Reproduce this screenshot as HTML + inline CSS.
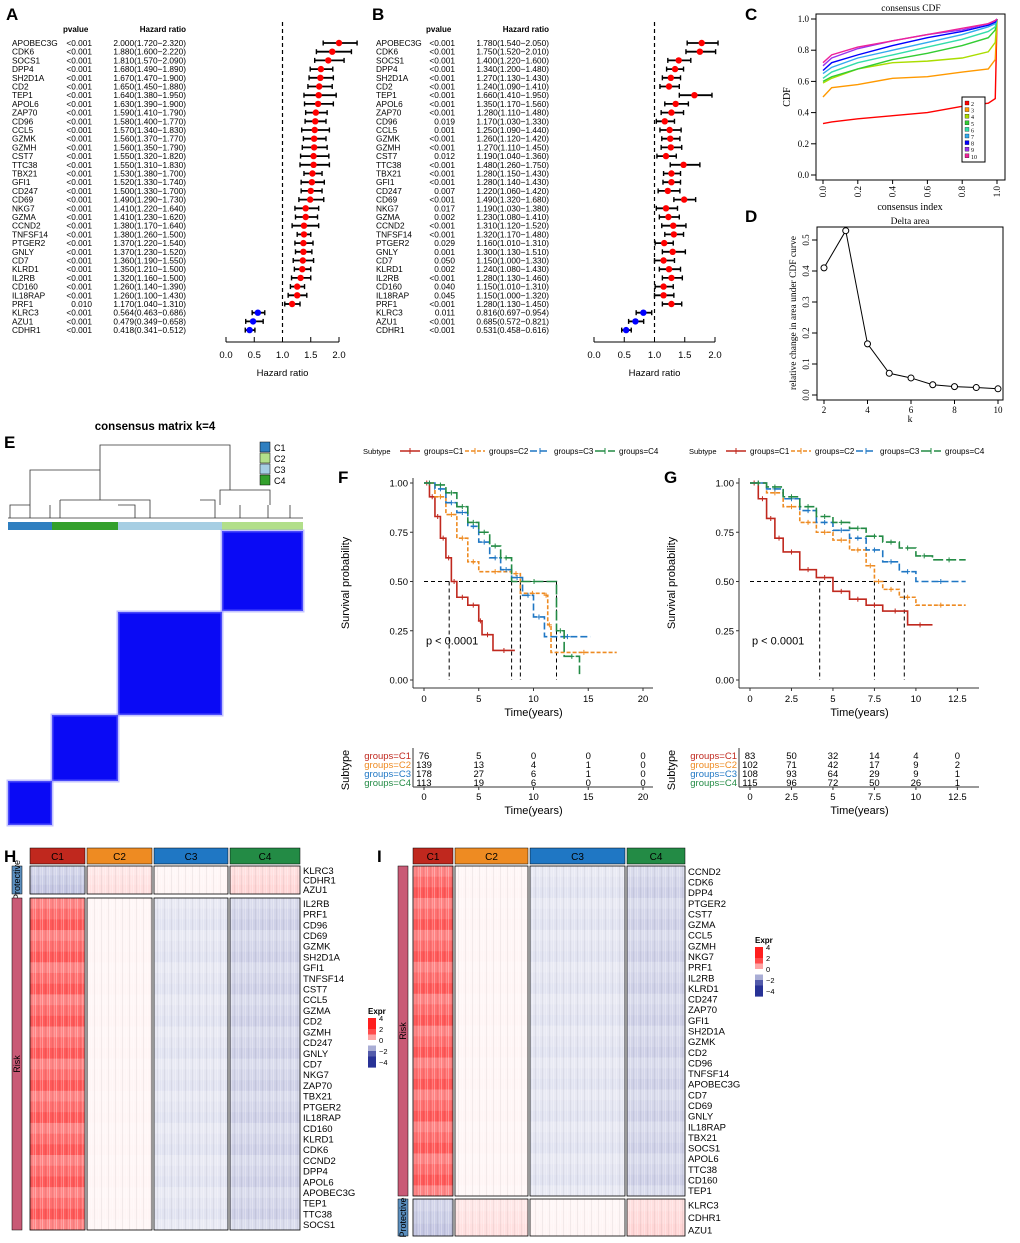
<!DOCTYPE html>
<html><head><meta charset="utf-8">
<style>
html,body{margin:0;padding:0;background:#fff;}
svg{display:block;font-family:"Liberation Sans",Arial,sans-serif;}
.serif{font-family:"Liberation Serif",serif;}
</style></head>
<body>
<svg id="fig" width="1020" height="1243" viewBox="0 0 1020 1243" xmlns="http://www.w3.org/2000/svg">
<defs>
<pattern id="stripes" width="7" height="4" patternUnits="userSpaceOnUse">
<rect x="0" y="0" width="1" height="4" fill="#fff" opacity="0.3"/>
<rect x="3" y="0" width="1" height="4" fill="#000" opacity="0.05"/>
<rect x="5" y="0" width="1" height="4" fill="#fff" opacity="0.2"/>
</pattern>
</defs>
</svg>
<script>
// ---------- DATA ----------
const genesA=["APOBEC3G","CDK6","SOCS1","DPP4","SH2D1A","CD2","TEP1","APOL6","ZAP70","CD96","CCL5","GZMK","GZMH","CST7","TTC38","TBX21","GFI1","CD247","CD69","NKG7","GZMA","CCND2","TNFSF14","PTGER2","GNLY","CD7","KLRD1","IL2RB","CD160","IL18RAP","PRF1","KLRC3","AZU1","CDHR1"];
const pA=["<0.001","<0.001","<0.001","<0.001","<0.001","<0.001","<0.001","<0.001","<0.001","<0.001","<0.001","<0.001","<0.001","<0.001","<0.001","<0.001","<0.001","<0.001","<0.001","<0.001","<0.001","<0.001","<0.001","<0.001","<0.001","<0.001","<0.001","<0.001","<0.001","<0.001","0.010","<0.001","<0.001","<0.001"];
const hrA=[2.000,1.880,1.810,1.680,1.670,1.650,1.640,1.630,1.590,1.580,1.570,1.560,1.560,1.550,1.550,1.530,1.520,1.500,1.490,1.410,1.410,1.380,1.380,1.370,1.370,1.360,1.350,1.320,1.260,1.260,1.170,0.564,0.479,0.418];
const loA=[1.720,1.600,1.570,1.490,1.470,1.450,1.380,1.390,1.410,1.400,1.340,1.370,1.350,1.320,1.310,1.380,1.330,1.330,1.290,1.220,1.230,1.170,1.260,1.220,1.230,1.190,1.210,1.160,1.140,1.100,1.040,0.463,0.349,0.341];
const hiA=[2.320,2.220,2.090,1.890,1.900,1.880,1.950,1.900,1.790,1.770,1.830,1.770,1.790,1.820,1.830,1.700,1.740,1.700,1.730,1.640,1.620,1.640,1.500,1.540,1.520,1.550,1.500,1.500,1.390,1.430,1.310,0.686,0.658,0.512];
const genesB=["APOBEC3G","CDK6","SOCS1","DPP4","SH2D1A","CD2","TEP1","APOL6","ZAP70","CD96","CCL5","GZMK","GZMH","CST7","TTC38","TBX21","GFI1","CD247","CD69","NKG7","GZMA","CCND2","TNFSF14","PTGER2","GNLY","CD7","KLRD1","IL2RB","CD160","IL18RAP","PRF1","KLRC3","AZU1","CDHR1"];
const pB=["<0.001","<0.001","<0.001","<0.001","<0.001","<0.001","<0.001","<0.001","<0.001","0.019","0.001","<0.001","<0.001","0.012","<0.001","<0.001","<0.001","0.007","<0.001","0.017","0.002","<0.001","<0.001","0.029","0.001","0.050","0.002","<0.001","0.040","0.045","<0.001","0.011","<0.001","<0.001"];
const hrB=[1.780,1.750,1.400,1.340,1.270,1.240,1.660,1.350,1.280,1.170,1.250,1.260,1.270,1.190,1.480,1.280,1.280,1.220,1.490,1.190,1.230,1.310,1.320,1.160,1.300,1.150,1.240,1.280,1.150,1.150,1.280,0.816,0.685,0.531];
const loB=[1.540,1.520,1.220,1.200,1.130,1.090,1.410,1.170,1.110,1.030,1.090,1.120,1.110,1.040,1.260,1.150,1.140,1.060,1.320,1.030,1.080,1.120,1.170,1.010,1.130,1.000,1.080,1.130,1.010,1.000,1.130,0.697,0.572,0.458];
const hiB=[2.050,2.010,1.600,1.480,1.430,1.410,1.950,1.560,1.480,1.330,1.440,1.420,1.450,1.360,1.750,1.430,1.430,1.420,1.680,1.380,1.410,1.520,1.480,1.310,1.510,1.330,1.430,1.460,1.310,1.320,1.450,0.954,0.821,0.616];
const hrTicks=[0,0.5,1,1.5,2];

const cdfX=[0,0.05,0.2,0.4,0.6,0.8,0.95,0.99,1.0];
const cdfK2=[0.33,0.34,0.36,0.38,0.40,0.44,0.46,0.49,1.0];
const cdfK3=[0.50,0.56,0.58,0.62,0.63,0.66,0.68,0.74,1.0];
const cdfK4=[0.59,0.62,0.68,0.72,0.73,0.75,0.79,0.85,1.0];
const cdfK5=[0.60,0.63,0.68,0.74,0.78,0.83,0.88,0.93,1.0];
const cdfK6=[0.62,0.66,0.72,0.77,0.82,0.87,0.92,0.95,1.0];
const cdfK7=[0.65,0.69,0.75,0.80,0.85,0.90,0.95,0.97,1.0];
const cdfK8=[0.67,0.72,0.77,0.83,0.88,0.92,0.96,0.98,1.0];
const cdfK9=[0.70,0.75,0.81,0.86,0.90,0.93,0.97,0.99,1.0];
const cdfK10=[0.72,0.77,0.82,0.86,0.90,0.94,0.97,0.99,1.0];
const deltaK=[2,3,4,5,6,7,8,9,10];
const deltaV=[0.41,0.53,0.165,0.07,0.055,0.033,0.027,0.024,0.02];

const kmFc1T=[0,0.5,1,1.5,2,2.5,3,4,5,5.3,6.3,8.3];
const kmFc1S=[1,0.93,0.83,0.72,0.62,0.5,0.42,0.38,0.3,0.23,0.15,0.15];
const kmFc2T=[0,1,2,3,4,5,8,8.8,11,11.3,11.6,17.6];
const kmFc2S=[1,0.93,0.84,0.72,0.6,0.55,0.54,0.44,0.43,0.28,0.14,0.14];
const kmFc3T=[0,1,2,3,4,5,6,7,8,9,10,11,15.2];
const kmFc3S=[1,0.97,0.9,0.85,0.78,0.7,0.62,0.56,0.52,0.43,0.32,0.22,0.22];
const kmFc4T=[0,1,2,3,4,5,6,7,8,12.1,12.8,14.2];
const kmFc4S=[1,0.99,0.95,0.88,0.8,0.75,0.68,0.62,0.5,0.25,0.12,0.03];
const kmGc1T=[0,0.5,1,1.5,2,3,4,5,6,7,8,9.5,11];
const kmGc1S=[1,0.92,0.82,0.72,0.65,0.56,0.52,0.45,0.41,0.38,0.35,0.28,0.28];
const kmGc2T=[0,1,2,3,4,5,6,7,7.5,8,9,10,13];
const kmGc2S=[1,0.95,0.88,0.8,0.75,0.71,0.66,0.58,0.5,0.46,0.42,0.38,0.38];
const kmGc3T=[0,1,2,3,4,5,6,7,8,9,10,13];
const kmGc3S=[1,0.97,0.92,0.86,0.8,0.76,0.72,0.66,0.6,0.55,0.5,0.5];
const kmGc4T=[0,1,2,3,4,5,6,7,8,9,10,11,13];
const kmGc4S=[1,0.98,0.93,0.88,0.83,0.8,0.77,0.73,0.7,0.67,0.63,0.61,0.61];
const medF=[2.3,8.0,8.8,12.1];
const medG=[4.2,7.5,9.3];
const riskF=[[76,5,0,0,0],[139,13,4,1,0],[178,27,6,1,0],[113,19,6,0,0]];
const riskFt=[0,5,10,15,20];
const riskG=[[83,50,32,14,4,0],[102,71,42,17,9,2],[108,93,64,29,9,1],[115,96,72,50,26,1]];
const riskGt=[0,2.5,5,7.5,10,12.5];

const hProt=["KLRC3","CDHR1","AZU1"];
const hRisk=["IL2RB","PRF1","CD96","CD69","GZMK","SH2D1A","GFI1","TNFSF14","CST7","CCL5","GZMA","CD2","GZMH","CD247","GNLY","CD7","NKG7","ZAP70","TBX21","PTGER2","IL18RAP","CD160","KLRD1","CDK6","CCND2","DPP4","APOL6","APOBEC3G","TEP1","TTC38","SOCS1"];
const iRisk=["CCND2","CDK6","DPP4","PTGER2","CST7","GZMA","CCL5","GZMH","NKG7","PRF1","IL2RB","KLRD1","CD247","ZAP70","GFI1","SH2D1A","GZMK","CD2","CD96","TNFSF14","APOBEC3G","CD7","CD69","GNLY","IL18RAP","TBX21","SOCS1","APOL6","TTC38","CD160","TEP1"];
const iProt=["KLRC3","CDHR1","AZU1"];
const hmRiskMeans=[1.6,0.1,-0.3,-0.5];
const hmProtMeans=[-0.6,0.3,0.1,0.4];

// ---------- HELPERS ----------
const NS="http://www.w3.org/2000/svg";
const svg=document.getElementById('fig');
function mk(tag,attrs,parent){const e=document.createElementNS(NS,tag);for(const k in attrs)e.setAttribute(k,attrs[k]);(parent||svg).appendChild(e);return e;}
function txt(x,y,s,size,parent,extra){const e=mk('text',Object.assign({x:x,y:y,'font-size':size},extra||{}),parent);e.textContent=s;return e;}
function grp(name){const g=mk('g',{});return g;}

[["A",6,20],["B",372,20],["C",745,20],["D",745,222],["E",4,448],["F",338,483],["G",664,483],["H",4,862],["I",377,862]].forEach(l=>{
  const t=txt(l[1],l[2],l[0],17,svg,{'font-weight':'bold'});
  
  
});

// ---------- FOREST ----------
function forest(name,genes,p,hr,lo,hi,gx,px,hx,ax0,ax2){
  const g=grp(name);
  const sx=v=>ax0+(ax2-ax0)*v/2;
  const y0=43,dy=8.7;
  const h1=txt(px-2,32,"pvalue",8,g,{'font-weight':'bold'});
  
  const h2=txt(hx+78,32,"Hazard ratio",8,g,{'font-weight':'bold','text-anchor':'end'});
  
  const dl=mk('line',{x1:sx(1),x2:sx(1),y1:22,y2:333,stroke:'#000','stroke-dasharray':'4,3','stroke-width':1.2},g);
  
  genes.forEach((gn,i)=>{
    const y=y0+i*dy;
    const a=txt(gx,y+3,gn,8.3,g);
    const b=txt(px+27,y+3,p[i],8.3,g,{'text-anchor':'end'});
    const c=txt(hx+78,y+3,hr[i].toFixed(3)+"("+lo[i].toFixed(3)+"\u2212"+hi[i].toFixed(3)+")",8.3,g,{'text-anchor':'end'});
    
    const l=mk('line',{x1:sx(lo[i]),x2:sx(hi[i]),y1:y,y2:y,stroke:'#000','stroke-width':1.8},g);
    
    [lo[i],hi[i]].forEach(v=>{const t=mk('line',{x1:sx(v),x2:sx(v),y1:y-2.5,y2:y+2.5,stroke:'#000','stroke-width':1.4},g);});
    const d=mk('circle',{cx:sx(hr[i]),cy:y,r:3.2,fill:hr[i]>1?'#ff0000':'#0000ff'},g);
    
  });
  const ax=mk('line',{x1:sx(0),x2:sx(2),y1:342,y2:342,stroke:'#000'},g);
  
  hrTicks.forEach(v=>{mk('line',{x1:sx(v),x2:sx(v),y1:342,y2:337,stroke:'#000'},g);
    const t=txt(sx(v),358,v.toFixed(1),9.5,g,{'text-anchor':'middle'});});
  const xt=txt(sx(1),376,"Hazard ratio",9.5,g,{'text-anchor':'middle'});
  
}
forest('forest-plot-a',genesA,pA,hrA,loA,hiA,12,65,108,226,339);
forest('forest-plot-b',genesB,pB,hrB,loB,hiB,376,428,471,594,715);

// ---------- CDF ----------
(function(){
  const g=grp('consensus-cdf-plot');
  const sx=v=>823+174*v, sy=v=>175-156*v;
  const box=mk('rect',{x:816,y:14,width:189,height:166,fill:'none',stroke:'#000'},g);
  
  const t=txt(911,11,"consensus CDF",9.5,g,{'text-anchor':'middle',class:'serif'});
  const series=[cdfK2,cdfK3,cdfK4,cdfK5,cdfK6,cdfK7,cdfK8,cdfK9,cdfK10];
  const cols=['#ff0000','#ff9900','#aadd00','#33cc33','#33ddaa','#33aaee','#0000ff','#9933ee','#ee2299'];
  series.forEach((s,i)=>{const pl=mk('polyline',{points:s.map((v,j)=>sx(cdfX[j])+','+sy(v)).join(' '),fill:'none',stroke:cols[i],'stroke-width':1.4},g);
    });
  [0,0.2,0.4,0.6,0.8,1].forEach(v=>{mk('line',{x1:811,x2:816,y1:sy(v),y2:sy(v),stroke:'#000'},g);
    const tl=txt(809,sy(v)+3,v.toFixed(1),9,g,{'text-anchor':'end',class:'serif'});
    mk('line',{x1:sx(v),x2:sx(v),y1:180,y2:184,stroke:'#000'},g);
    const xl=txt(0,0,v.toFixed(1),9,g,{class:'serif','text-anchor':'end',transform:`translate(${sx(v)+3},186) rotate(-90)`});});
  const yl=txt(0,0,"CDF",10,g,{class:'serif','text-anchor':'middle',transform:'translate(790,97) rotate(-90)'});
  const xt=txt(910,210,"consensus index",10,g,{class:'serif','text-anchor':'middle'});
  const lg=mk('rect',{x:962,y:97,width:23,height:65,fill:'#fff',stroke:'#000'},g);
  cols.forEach((c,i)=>{mk('rect',{x:965,y:101+i*6.6,width:4,height:4,fill:c,stroke:'#000','stroke-width':0.3},g);
    const lt=txt(971,106+i*6.6,String(i+2),6,g,{class:'serif'});});
})();

// ---------- DELTA AREA ----------
(function(){
  const g=grp('delta-area-plot');
  const sx=k=>824+(998-824)*(k-2)/8, sy=v=>395-310*v;
  const box=mk('rect',{x:817,y:227,width:186,height:173,fill:'none',stroke:'#000'},g);
  const t=txt(910,224,"Delta area",9.5,g,{'text-anchor':'middle',class:'serif'});
  const pl=mk('polyline',{points:deltaK.map((k,i)=>sx(k)+','+sy(deltaV[i])).join(' '),fill:'none',stroke:'#000'},g);
  deltaK.forEach((k,i)=>{const c=mk('circle',{cx:sx(k),cy:sy(deltaV[i]),r:3,fill:'#fff',stroke:'#000'},g);});
  [0,0.1,0.2,0.3,0.4,0.5].forEach(v=>{mk('line',{x1:812,x2:817,y1:sy(v),y2:sy(v),stroke:'#000'},g);
    const tl=txt(0,0,v.toFixed(1),9,g,{class:'serif','text-anchor':'middle',transform:`translate(809,${sy(v)}) rotate(-90)`});});
  [2,4,6,8,10].forEach(k=>{mk('line',{x1:sx(k),x2:sx(k),y1:400,y2:404,stroke:'#000'},g);
    const xl=txt(sx(k),413,String(k),9,g,{'text-anchor':'middle',class:'serif'});});
  const yl=txt(0,0,"relative change in area under CDF curve",9.5,g,{class:'serif','text-anchor':'middle',transform:'translate(796,313) rotate(-90)'});
  const xt=txt(910,422,"k",9.5,g,{class:'serif','text-anchor':'middle'});
})();

// ---------- CONSENSUS MATRIX ----------
(function(){
  const g=grp('consensus-matrix');
  const t=txt(155,430,"consensus matrix k=4",11.5,g,{'text-anchor':'middle','font-weight':'bold'});
  const d=mk('path',{d:"M30,518 V505 H10 V518 M50,505 V518 M30,505 V470 H100 V500 M60,500 H150 V518 M60,500 V518 M100,470 V445 H230 V470 M118,505 H135 V518 M200,500 H215 V518 M230,470 V490 H220 V505 M220,490 H270 V505 M240,505 V518 M268,505 V518 M290,505 V518",fill:'none',stroke:'#333','stroke-width':0.8},g);
  
  const base=mk('line',{x1:8,x2:303,y1:518,y2:518,stroke:'#333','stroke-width':0.8},g);
  const blocks=[[8,52,'#2f7fc0'],[52,118,'#33a02c'],[118,222,'#a6cee3'],[222,303,'#b2df8a']];
  blocks.forEach((b,i)=>{const r=mk('rect',{x:b[0],y:522,width:b[1]-b[0],height:8,fill:b[2]},g);});
  const hm=[[222,303,531,611],[118,222,612,715],[52,118,715,781],[8,52,781,825]];
  hm.forEach((b,i)=>{const r=mk('rect',{x:b[0],y:b[2],width:b[1]-b[0],height:b[3]-b[2],fill:'#0a0af5'},g);
    const e=mk('rect',{x:b[0],y:b[2],width:b[1]-b[0],height:b[3]-b[2],fill:'none',stroke:'#8888ff','stroke-width':3,opacity:0.5},g);});
  const lg=[['C1','#2f7fc0'],['C2','#b2df8a'],['C3','#a6cee3'],['C4','#33a02c']];
  lg.forEach((l,i)=>{const r=mk('rect',{x:260,y:442+i*11,width:10,height:10,fill:l[1],stroke:'#000','stroke-width':0.5},g);
    const lt=txt(274,451+i*11,l[0],9,g);});
})();

// ---------- KM ----------
const kmCols=['#c0281e','#ee8b22','#1f77c4','#238b45'];
const kmDash=['', '4,2','7,3','10,3'];
function km(name,ox,xmax,xticks,xfmt,curves,meds,risk,riskT){
  const g=grp(name);
  const x0=ox+14;
  const sx=v=>x0+219*v/xmax, sy=v=>680-197*v;
  const lt=txt(ox-47,454,"Subtype",7.5,g);
  ['groups=C1','groups=C2','groups=C3','groups=C4'].forEach((s,i)=>{const lx=ox-10+i*65;
    const ll=mk('line',{x1:lx,x2:lx+20,y1:451,y2:451,stroke:kmCols[i],'stroke-width':1.5,'stroke-dasharray':kmDash[i]},g);
    mk('line',{x1:lx+10,x2:lx+10,y1:448,y2:454,stroke:kmCols[i]},g);
    const e=txt(lx+24,454,s,8,g);});
  const ya=mk('line',{x1:x0-11,x2:x0-11,y1:478,y2:688,stroke:'#333'},g);
  const xa=mk('line',{x1:x0-11,x2:sx(xmax)+10,y1:688,y2:688,stroke:'#333'},g);
  [0,0.25,0.5,0.75,1].forEach(v=>{mk('line',{x1:x0-14,x2:x0-11,y1:sy(v),y2:sy(v),stroke:'#333'},g);
    const t=txt(x0-16,sy(v)+3.5,v.toFixed(2),9.5,g,{'text-anchor':'end'});});
  xticks.forEach(v=>{mk('line',{x1:sx(v),x2:sx(v),y1:688,y2:691,stroke:'#333'},g);
    const t=txt(sx(v),702,xfmt(v),9.5,g,{'text-anchor':'middle'});});
  const yt=txt(0,0,"Survival probability",11,g,{'text-anchor':'middle',transform:`translate(${ox-61},583) rotate(-90)`});
  const xt=txt(sx(xmax/2),716,"Time(years)",11,g,{'text-anchor':'middle'});
  const mh=mk('line',{x1:x0,x2:sx(Math.max(...meds)),y1:sy(0.5),y2:sy(0.5),stroke:'#000','stroke-dasharray':'4,3'},g);
  meds.forEach(m=>{const l=mk('line',{x1:sx(m),x2:sx(m),y1:sy(0.5),y2:sy(0),stroke:'#000','stroke-dasharray':'4,3'},g);});
  curves.forEach((c,i)=>{const T=c[0],S=c[1];let d='M'+sx(T[0])+','+sy(S[0]);
    for(let j=1;j<T.length;j++){d+=' H'+sx(T[j])+' V'+sy(S[j]);}
    const p=mk('path',{d:d,fill:'none',stroke:kmCols[i],'stroke-width':1.6,'stroke-dasharray':kmDash[i]},g);
    for(let j=1;j<T.length;j++){const mx=sx((T[j-1]+T[j])/2),my=sy(S[j-1]);
      const cm=mk('path',{d:`M${mx-2.5},${my} h5 M${mx},${my-2.5} v5`,stroke:kmCols[i],'stroke-width':1},g);}
  });
  const pv=txt(sx(0)+2,sy(0.2)+4,"p < 0.0001",11,g);
  const rt=txt(0,0,"Subtype",11,g,{'text-anchor':'middle',transform:`translate(${ox-61},770) rotate(-90)`});
  mk('line',{x1:x0-11,x2:x0-11,y1:748,y2:787,stroke:'#333'},g);
  const ra=mk('line',{x1:x0-11,x2:sx(xmax)+10,y1:787,y2:787,stroke:'#333'},g);
  risk.forEach((row,i)=>{const y=759+i*9;
    const lb=txt(x0-13,y,'groups=C'+(i+1),9.5,g,{'text-anchor':'end',fill:kmCols[i]});
    row.forEach((n,j)=>{const c=txt(sx(riskT[j]),y,String(n),9.5,g,{'text-anchor':'middle'});});});
  xticks.forEach(v=>{mk('line',{x1:sx(v),x2:sx(v),y1:787,y2:790,stroke:'#333'},g);
    const t=txt(sx(v),800,xfmt(v),9.5,g,{'text-anchor':'middle'});});
  const xt2=txt(sx(xmax/2),814,"Time(years)",11,g,{'text-anchor':'middle'});
}
km('km-plot-f',410,20,[0,5,10,15,20],v=>String(v),[[kmFc1T,kmFc1S],[kmFc2T,kmFc2S],[kmFc3T,kmFc3S],[kmFc4T,kmFc4S]],medF,riskF,riskFt);
km('km-plot-g',736,13.2,[0,2.5,5,7.5,10,12.5],v=>String(v),[[kmGc1T,kmGc1S],[kmGc2T,kmGc2S],[kmGc3T,kmGc3S],[kmGc4T,kmGc4S]],medG,riskG,riskGt);

// ---------- HEATMAPS ----------
function col(v){const t=Math.max(-1,Math.min(1,v/4));
  if(t>=0){const c=Math.max(30,Math.round(255-225*t*1.6));return `rgb(255,${c},${c})`;}
  const a=-t;return `rgb(${Math.max(40,Math.round(255-215*a*1.6))},${Math.max(50,Math.round(255-205*a*1.6))},${Math.max(150,Math.round(255-105*a*1.6))})`;}
const groupCols=['#c0281e','#ee8b22','#1f77c4','#238b45'];
function heat(name,gx,groupBounds,blocks,labelX,legX,legY){
  const g=grp(name);
  groupBounds.forEach((b,i)=>{const r=mk('rect',{x:b[0],y:848,width:b[1]-b[0],height:16,fill:groupCols[i],stroke:'#000','stroke-width':0.5},g);
    const t=txt((b[0]+b[1])/2,860,'C'+(i+1),10,g,{'text-anchor':'middle'});});
  blocks.forEach(bl=>{const [genes,y0,y1,means,label,color]=bl;const rh=(y1-y0)/genes.length;
    const sb=mk('rect',{x:gx,y:y0,width:10,height:y1-y0,fill:color,stroke:'#000','stroke-width':0.5},g);
    const sl=txt(0,0,label,9,g,{'text-anchor':'middle',transform:`translate(${gx+8},${(y0+y1)/2}) rotate(-90)`});
    groupBounds.forEach((b,j)=>{
      genes.forEach((gn,k)=>{const c=mk('rect',{x:b[0],y:y0+k*rh,width:b[1]-b[0],height:rh+0.3,fill:col(means[j]*(1+0.15*((k%3)-1)))},g);});
      mk('rect',{x:b[0],y:y0,width:b[1]-b[0],height:y1-y0,fill:'url(#stripes)'},g);
      const fr=mk('rect',{x:b[0],y:y0,width:b[1]-b[0],height:y1-y0,fill:'none',stroke:'#000','stroke-width':0.8},g);});
    genes.forEach((gn,k)=>{const t=txt(labelX,y0+k*rh+rh/2+3.5,gn,9.5,g);});
  });
  const lt=txt(legX,legY-4,"Expr",8,g,{'font-weight':'bold'});
  const steps=[4,3,2,1,0,-1,-2,-3,-4];
  steps.forEach((v,i)=>{const r=mk('rect',{x:legX,y:legY+i*5.5,width:8,height:5.6,fill:col(v)},g);});
  [4,2,0,-2,-4].forEach((v,i)=>{const t=txt(legX+11,legY+3+i*11,v<0?'\u2212'+(-v):String(v),7.5,g);});
}
heat('heatmap-h',12,[[30,85],[87,152],[154,228],[230,300]],
  [[hProt,866,894,hmProtMeans,'Protective','#5b8fbf'],[hRisk,898,1230,hmRiskMeans,'Risk','#c95a76']],303,368,1018);
heat('heatmap-i',398,[[413,453],[455,528],[530,625],[627,685]],
  [[iRisk,866,1196,hmRiskMeans,'Risk','#c95a76'],[iProt,1199,1236,hmProtMeans,'Protective','#5b8fbf']],688,755,947);
</script>
</body></html>
